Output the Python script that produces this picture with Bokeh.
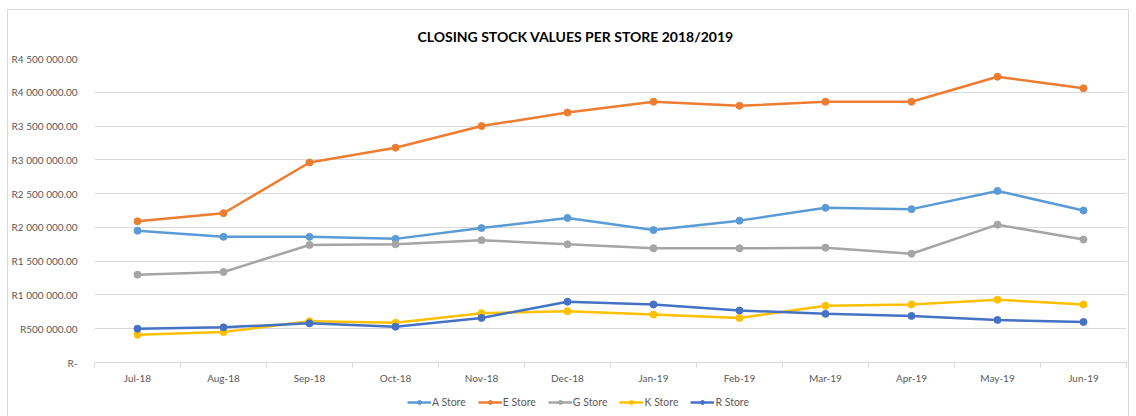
from bokeh.plotting import figure
from bokeh.layouts import column
from bokeh.models import FixedTicker, Range1d, Legend, LegendItem, InlineStyleSheet
from bokeh.embed import file_html
from bokeh.resources import INLINE

months = ["Jul-18", "Aug-18", "Sep-18", "Oct-18", "Nov-18", "Dec-18",
          "Jan-19", "Feb-19", "Mar-19", "Apr-19", "May-19", "Jun-19"]
a_store = [1950000, 1860000, 1860000, 1830000, 1990000, 2140000, 1960000, 2100000, 2290000, 2270000, 2540000, 2250000]
e_store = [2090000, 2210000, 2960000, 3180000, 3500000, 3700000, 3860000, 3800000, 3860000, 3860000, 4230000, 4060000]
g_store = [1300000, 1340000, 1740000, 1750000, 1810000, 1750000, 1690000, 1690000, 1700000, 1610000, 2040000, 1820000]
k_store = [410000, 450000, 610000, 590000, 730000, 760000, 710000, 660000, 840000, 860000, 930000, 860000]
r_store = [500000, 520000, 580000, 530000, 660000, 900000, 860000, 770000, 720000, 690000, 630000, 600000]
series_names = ["A Store", "E Store", "G Store", "K Store", "R Store"]
series_colors = ["#5B9BD5", "#ED7D31", "#A5A5A5", "#FFC000", "#4472C4"]
y_ticks = [0, 500000, 1000000, 1500000, 2000000, 2500000, 3000000, 3500000, 4000000, 4500000]
y_labels = ["R-", "R500 000.00", "R1 000 000.00", "R1 500 000.00", "R2 000 000.00",
            "R2 500 000.00", "R3 000 000.00", "R3 500 000.00", "R4 000 000.00", "R4 500 000.00"]

xs = list(range(len(months)))
FONT = "Lato"
GRAY = "#595959"

p = figure(width=1120, height=384, output_backend="svg", toolbar_location=None,
           x_range=Range1d(-0.5, len(months) - 0.5), y_range=Range1d(0, 4500000),
           min_border_left=84, min_border_right=2, min_border_top=48, min_border_bottom=32,
           margin=0)
p.outline_line_color = None
p.background_fill_color = "white"
p.border_fill_color = "white"

p.title.text = "CLOSING STOCK VALUES PER STORE 2018/2019"
p.title.text_font = FONT
p.title.text_font_style = "bold"
p.title.text_font_size = "14px"
p.title.text_color = "#000000"
p.title.align = "left"
p.title.offset = 323
p.title.standoff = 28

series_vals = [a_store, e_store, g_store, k_store, r_store]
for name, color, vals in zip(series_names, series_colors, series_vals):
    p.line(xs, vals, line_color=color, line_width=2.5)
    p.scatter(xs, vals, marker="circle", size=7, fill_color=color, line_color=color)

# x axis
xa = p.xaxis[0]
xa.ticker = FixedTicker(ticks=xs, minor_ticks=[x - 0.5 for x in range(len(months) + 1)])
xa.major_label_overrides = {i: m for i, m in enumerate(months)}
xa.major_tick_line_color = None
xa.minor_tick_line_color = "#d9d9d9"
xa.minor_tick_out = 5
xa.minor_tick_in = 0
xa.axis_line_color = "#d9d9d9"
xa.major_label_text_font = FONT
xa.major_label_text_font_size = "10px"
xa.major_label_text_color = GRAY
xa.major_label_standoff = 3

ya = p.yaxis[0]
ya.ticker = FixedTicker(ticks=y_ticks)
ya.major_label_overrides = {t: l for t, l in zip(y_ticks, y_labels)}
ya.axis_line_color = None
ya.major_tick_line_color = None
ya.minor_tick_line_color = None
ya.major_label_text_font = FONT
ya.major_label_text_font_size = "10px"
ya.major_label_text_color = GRAY
ya.major_label_standoff = 11

p.xgrid.grid_line_color = None
p.ygrid.ticker = FixedTicker(ticks=y_ticks)
p.ygrid.grid_line_color = "#d9d9d9"

# legend strip below the chart (its renderers sit outside the visible range)
lg = figure(width=1120, height=22, output_backend="svg", toolbar_location=None,
            x_axis_location=None, y_axis_location=None,
            x_range=Range1d(0, 1), y_range=Range1d(0, 1),
            min_border_left=0, min_border_right=0, min_border_top=0, min_border_bottom=0,
            margin=0)
lg.outline_line_color = None
lg.grid.visible = False
items = []
for name, color in zip(series_names, series_colors):
    l = lg.line([-10, -9], [-10, -10], line_color=color, line_width=2.5)
    s = lg.scatter([-10], [-10], marker="circle", size=6, fill_color=color, line_color=color)
    items.append(LegendItem(label=name, renderers=[l, s]))
legend = Legend(items=items, orientation="horizontal", location=(313, 8),
                glyph_width=24, glyph_height=10, label_standoff=1, spacing=12,
                label_text_font=FONT, label_text_font_size="10.5px", label_text_color=GRAY,
                border_line_color=None, background_fill_alpha=0, padding=0, margin=0)
lg.add_layout(legend)

layout = column(p, lg, margin=(10, 0, 0, 8), spacing=0)
layout.stylesheets = [InlineStyleSheet(css=":host { outline: 1px solid #d9d9d9; background: white; }")]

open("out.html", "w").write(file_html(layout, INLINE))
